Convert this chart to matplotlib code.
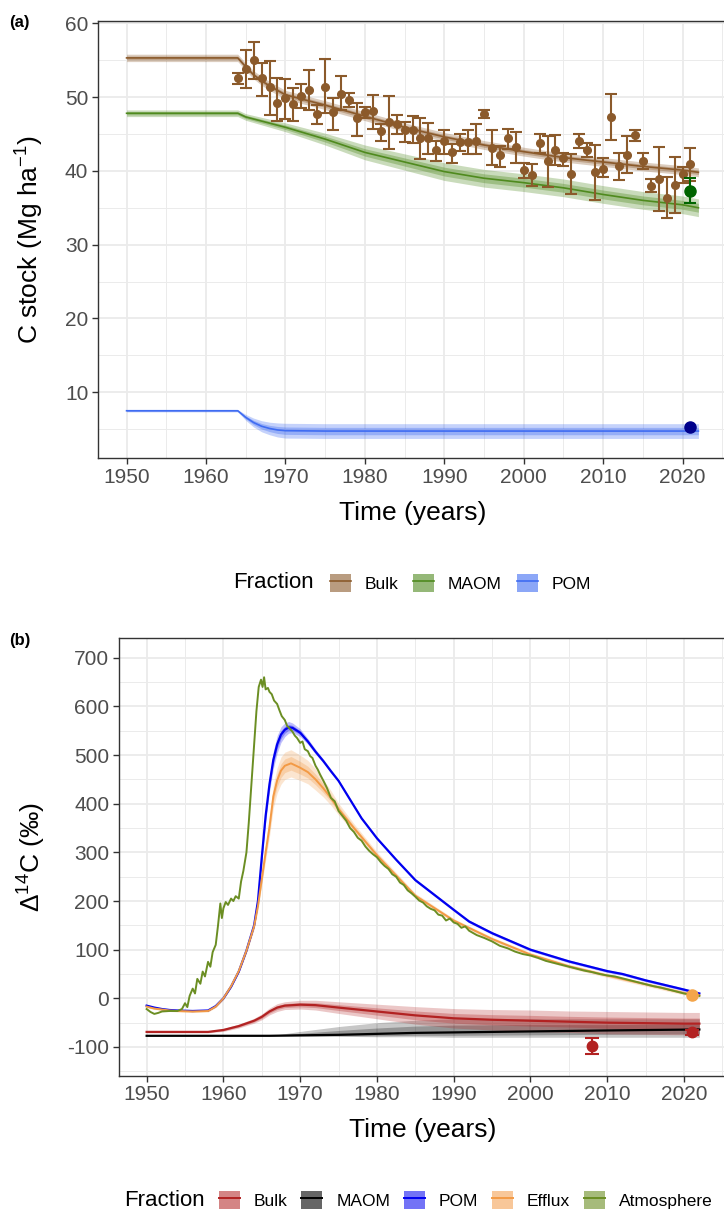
import numpy as np
import matplotlib
matplotlib.use("Agg")
import matplotlib.pyplot as plt
from matplotlib.patches import Patch
from matplotlib.lines import Line2D
from matplotlib.ticker import MultipleLocator

plt.rcParams['font.family'] = ['Liberation Sans', 'DejaVu Sans']
plt.rcParams['mathtext.default'] = 'regular'
plt.rcParams['axes.unicode_minus'] = False

# ---------------- panel (a): C stocks ----------------
obs_years = list(range(1964, 2022))
bulk_obs = [52.6, 53.8, 55.0, 52.6, 51.4, 49.2, 49.9, 49.0, 50.1, 51.0,
            47.7, 51.4, 48.0, 50.4, 49.6, 47.1, 48.0, 48.1, 45.4, 46.6,
            46.3, 45.6, 45.6, 44.5, 44.5, 42.8, 44.0, 42.6, 43.9, 43.9,
            44.1, 47.7, 43.1, 42.1, 44.5, 43.2, 40.1, 39.4, 43.8, 41.3,
            42.8, 41.7, 39.6, 44.0, 42.8, 39.9, 40.2, 47.3, 40.7, 42.2,
            44.8, 41.3, 38.0, 38.9, 36.3, 38.1, 39.6, 40.9]
bulk_lo = [51.8, 51.2, 52.5, 50.2, 47.6, 46.8, 47.0, 46.8, 48.5, 48.2,
           46.4, 47.9, 45.6, 48.2, 48.6, 44.7, 47.2, 45.7, 44.1, 42.9,
           45.0, 43.9, 43.8, 41.6, 42.3, 41.3, 42.3, 41.0, 42.7, 42.3,
           42.3, 47.2, 40.8, 40.5, 43.0, 41.0, 39.0, 37.9, 42.4, 37.8,
           40.8, 40.6, 36.8, 43.1, 41.9, 36.1, 39.1, 44.2, 38.7, 39.7,
           44.0, 40.2, 37.2, 34.6, 33.6, 34.3, 38.3, 38.6]
bulk_hi = [53.3, 56.4, 57.5, 54.6, 54.9, 52.6, 52.5, 51.2, 51.7, 53.7,
           48.9, 55.1, 49.9, 52.9, 50.5, 49.2, 48.6, 50.3, 46.4, 50.1,
           47.5, 46.6, 47.4, 47.1, 46.5, 44.1, 45.6, 43.7, 45.0, 45.5,
           46.3, 48.3, 45.5, 43.3, 45.7, 45.3, 41.1, 40.9, 45.0, 44.7,
           44.8, 42.4, 42.3, 45.0, 43.8, 43.5, 41.7, 50.4, 42.4, 44.7,
           45.5, 42.4, 38.9, 43.2, 39.1, 41.9, 40.5, 43.1]

maom_obs_year, maom_obs, maom_obs_lo, maom_obs_hi = 2021, 37.3, 35.6, 39.0
pom_obs_year, pom_obs = 2021, 5.35

bulk_years = [1950, 1964, 1965, 1966, 1967, 1968, 1970, 1975, 1980, 1985,
              1990, 1995, 2000, 2005, 2010, 2015, 2020, 2022]
bulk_mod = [55.3, 55.3, 54.1, 53.0, 52.2, 51.5, 50.3, 48.9, 47.4, 45.9,
            44.6, 43.5, 42.6, 41.8, 41.2, 40.6, 40.1, 39.8]
bulk_hw = [0.5, 0.5, 0.5, 0.55, 0.6, 0.6, 0.6, 0.6, 0.6, 0.6,
           0.6, 0.6, 0.6, 0.6, 0.6, 0.6, 0.6, 0.6]

maom_years = [1950, 1964, 1965, 1970, 1975, 1980, 1985, 1990, 1995, 2000,
              2005, 2010, 2015, 2020, 2022]
maom_mod = [47.8, 47.8, 47.3, 45.9, 44.3, 42.5, 41.2, 39.9, 39.0, 38.4,
            37.7, 36.8, 36.0, 35.4, 35.0]
maom_hw = [0.45, 0.45, 0.45, 0.6, 0.8, 1.0, 1.1, 1.2, 1.2, 1.2,
           1.2, 1.2, 1.2, 1.2, 1.2]

pom_years = [1950, 1964, 1965, 1966, 1967, 1968, 1969, 1970, 1975, 2022]
pom_mod = [7.5, 7.5, 6.6, 5.9, 5.4, 5.1, 4.9, 4.8, 4.75, 4.75]
pom_hw = [0.15, 0.15, 0.4, 0.6, 0.75, 0.85, 0.95, 1.0, 1.0, 1.0]

# ---------------- panel (b): radiocarbon ----------------
atm_years = [1950.0, 1950.5, 1951.0, 1951.5, 1952.0, 1953.0, 1954.0, 1954.6, 1955.0, 1955.3,
             1955.6, 1956.0, 1956.3, 1956.6, 1957.0, 1957.3, 1957.6, 1958.0, 1958.3, 1958.6,
             1959.0, 1959.3, 1959.6, 1959.8, 1960.0, 1960.3, 1960.6, 1961.0, 1961.3, 1961.6,
             1962.0, 1962.3, 1962.6, 1963.0, 1963.3, 1963.6, 1964.0, 1964.3, 1964.6, 1964.9,
             1965.1, 1965.3, 1965.5, 1965.8, 1966.0, 1966.3, 1966.6, 1967.0, 1967.3, 1967.6,
             1968.0, 1968.3, 1968.6, 1969.0, 1969.3, 1969.6, 1970.0, 1970.3, 1970.6, 1971.0,
             1971.3, 1971.6, 1972.0, 1972.3, 1972.6, 1973.0, 1973.5, 1974.0, 1974.5, 1975.0,
             1975.5, 1976.0, 1976.5, 1977.0, 1977.5, 1978.0, 1978.5, 1979.0, 1979.5, 1980.0,
             1980.5, 1981.0, 1981.5, 1982.0, 1982.5, 1983.0, 1983.5, 1984.0, 1984.5, 1985.0,
             1985.5, 1986.0, 1986.5, 1987.0, 1987.5, 1988.0, 1988.5, 1989.0, 1989.5, 1990.0,
             1990.5, 1991.0, 1991.5, 1992.0, 1993.0, 1994.0, 1995.0, 1996.0, 1997.0, 1998.0,
             1999.0, 2000.0, 2001.0, 2002.0, 2003.0, 2004.0, 2005.0, 2006.0, 2007.0, 2008.0,
             2009.0, 2010.0, 2011.0, 2012.0, 2013.0, 2014.0, 2015.0, 2016.0, 2017.0, 2018.0,
             2019.0, 2020.0, 2021.0, 2022.0]
atm_vals = [-22, -28, -32, -30, -27, -26, -26, -22, -10, -18,
            5, 20, 10, 40, 30, 55, 45, 75, 65, 95,
            110, 150, 195, 165, 185, 198, 192, 205, 200, 210,
            205, 240, 262, 300, 360, 430, 520, 590, 640, 655,
            640, 660, 635, 638, 630, 625, 612, 605, 592, 580,
            572, 560, 555, 548, 540, 535, 525, 528, 512, 508,
            498, 494, 478, 470, 460, 448, 432, 412, 405, 385,
            375, 365, 350, 342, 330, 324, 312, 303, 296, 290,
            280, 272, 266, 255, 250, 238, 233, 222, 216, 209,
            201, 197, 189, 184, 181, 172, 170, 160, 164, 156,
            153, 145, 148, 139, 130, 124, 117, 108, 103, 96,
            91, 88, 83, 77, 73, 69, 65, 61, 57, 54,
            50, 47, 45, 41, 37, 33, 29, 25, 22, 18,
            14, 10, 7, 5]

pomb_years = [1950, 1951, 1952, 1953, 1954, 1956, 1958, 1959, 1960, 1961,
              1962, 1963, 1964, 1964.5, 1965, 1965.5, 1966, 1966.5, 1967, 1967.5,
              1968, 1968.5, 1969, 1970, 1971, 1972, 1973, 1974, 1975, 1978,
              1980, 1982.5, 1985, 1990, 1992, 1995, 2000, 2005, 2010, 2012,
              2015, 2020, 2022]
pomb_vals = [-15, -19, -22, -24, -25, -26, -25, -16, 0, 24,
             55, 98, 150, 200, 290, 375, 440, 490, 522, 542,
             552, 557, 556, 546, 528, 507, 488, 467, 447, 370,
             329, 285, 243, 182, 158, 134, 100, 76, 56, 50,
             37, 18, 10]
pomb_hw = [1, 1, 1, 1, 1, 1, 1, 1, 2, 2,
           2, 3, 4, 6, 10, 14, 16, 18, 18, 16,
           14, 12, 10, 8, 6, 5, 4, 4, 3, 3,
           3, 3, 3, 3, 3, 3, 3, 3, 3, 3,
           3, 3, 3]

eff_years = [1950, 1951, 1952, 1953, 1954, 1956, 1958, 1959, 1960, 1961,
             1962, 1963, 1964, 1964.5, 1965, 1965.5, 1966, 1966.5, 1967, 1967.5,
             1968, 1968.8, 1970, 1971, 1972, 1973, 1974, 1975, 1977, 1980,
             1985, 1990, 1995, 2000, 2005, 2010, 2015, 2020, 2022]
eff_vals = [-17, -21, -23, -25, -26, -27, -26, -17, 0, 25,
            56, 98, 148, 190, 245, 300, 352, 415, 448, 468,
            478, 483, 474, 465, 450, 432, 412, 389, 350, 294,
            211, 160, 122, 90, 66, 47, 29, 11, 6]
eff_hw = [2, 2, 2, 2, 2, 2, 2, 2, 3, 3,
          4, 5, 6, 8, 12, 16, 20, 24, 26, 28,
          28, 28, 26, 24, 22, 18, 15, 12, 9, 7,
          5, 4, 4, 4, 4, 4, 4, 4, 4]

bulkb_years = [1950, 1955, 1958, 1960, 1962, 1964, 1965, 1966, 1967, 1968,
               1970, 1972, 1975, 1980, 1985, 1990, 1995, 2000, 2005, 2010,
               2015, 2020, 2022]
bulkb_vals = [-69, -69, -69, -65, -57, -46, -38, -27, -19, -15,
              -13, -14, -19, -27, -35, -41, -44, -46, -48, -50,
              -51, -52, -52]
bulkb_hw = [2, 2, 2, 3, 4, 5, 6, 7, 8, 8,
            9, 10, 12, 15, 18, 20, 21, 22, 22, 23,
            23, 23, 23]

maomb_years = [1950, 1966, 1970, 1975, 1980, 1985, 1990, 2000, 2010, 2022]
maomb_vals = [-77, -77, -76, -75, -73, -71, -70, -68, -66, -64]
maomb_out_lo = [-77, -77, -78, -78, -79, -79, -80, -80, -80, -80]
maomb_out_hi = [-77, -77, -68, -58, -50, -45, -42, -42, -42, -42]
maomb_in_lo = [-77, -77, -77, -77, -77, -76, -76, -75, -74, -73]
maomb_in_hi = [-77, -77, -72, -66, -61, -57, -55, -54, -54, -53]

bulkb_obs_years = [2008, 2021]
bulkb_obs = [-98, -70]
bulkb_obs_err = [17, 5]
eff_obs_year, eff_obs = 2021, 7

# colours
c_bulk_a = '#8B5A2B'
c_maom_a = '#4F8A1E'
c_pom_a = '#3F6CF2'
c_bulk_b = '#B22222'
c_maom_b = '#000000'
c_pom_b = '#0000F0'
c_eff = '#F39A45'
c_atm = '#6B8E23'

tick_kw = dict(labelsize=15, labelcolor='#4D4D4D', length=4, width=1, color='#333333', pad=3)


def style_axes(ax, ymaj, ymin):
    ax.set_xlim(1946.4, 2025.6)
    ax.xaxis.set_major_locator(MultipleLocator(10))
    ax.xaxis.set_minor_locator(MultipleLocator(5))
    ax.yaxis.set_major_locator(MultipleLocator(ymaj))
    ax.yaxis.set_minor_locator(MultipleLocator(ymin))
    ax.tick_params(which='major', **tick_kw)
    ax.tick_params(which='minor', length=0)
    ax.grid(which='major', color='#EBEBEB', lw=1.3)
    ax.grid(which='minor', color='#EBEBEB', lw=0.7)
    ax.set_axisbelow(True)
    for s in ax.spines.values():
        s.set_color('#333333')
        s.set_linewidth(1.0)


def band(ax, x, mid, hw, color, scale_in=0.5, a_out=0.3, a_in=0.35):
    x = np.array(x)
    mid = np.array(mid, dtype=float)
    hw = np.array(hw, dtype=float)
    ax.fill_between(x, mid - hw, mid + hw, color=color, alpha=a_out, lw=0)
    ax.fill_between(x, mid - hw * scale_in, mid + hw * scale_in, color=color, alpha=a_in, lw=0)


fig = plt.figure(figsize=(7.24, 12.11), dpi=100)
W, H = 724.0, 1211.0

# ---- panel a ----
axa = fig.add_axes([98 / W, 1 - 458 / H, (727 - 98) / W, (458 - 21) / H])
style_axes(axa, 10, 5)
axa.set_ylim(1.1, 60.3)

band(axa, bulk_years, bulk_mod, bulk_hw, c_bulk_a)
axa.plot(bulk_years, bulk_mod, color=c_bulk_a, lw=1.2)
band(axa, maom_years, maom_mod, maom_hw, c_maom_a)
axa.plot(maom_years, maom_mod, color=c_maom_a, lw=1.2)
band(axa, pom_years, pom_mod, pom_hw, c_pom_a)
axa.plot(pom_years, pom_mod, color=c_pom_a, lw=1.2)

b_obs = np.array(bulk_obs)
yerr = [b_obs - np.array(bulk_lo), np.array(bulk_hi) - b_obs]
axa.errorbar(obs_years, b_obs, yerr=yerr, fmt='o', color=c_bulk_a, ms=5.5,
             elinewidth=1.5, capsize=4, capthick=1.5, zorder=5)
axa.errorbar([maom_obs_year], [maom_obs],
             yerr=[[maom_obs - maom_obs_lo], [maom_obs_hi - maom_obs]],
             fmt='o', color='#006400', ms=8, elinewidth=1.5, capsize=4, capthick=1.5, zorder=6)
axa.plot([pom_obs_year], [pom_obs], 'o', color='#00008B', ms=8, zorder=6)

fig.text(30 / W, 1 - 240 / H, 'C stock (Mg ha$^{-1}$)', rotation=90, ha='center', va='center', fontsize=19)
fig.text(413 / W, 1 - 513 / H, 'Time (years)', ha='center', va='center', fontsize=19)
fig.text(9 / W, 1 - 23 / H, '(a)', ha='left', va='center', fontsize=12, fontweight='bold')

# legend a
fig.text(314 / W, 1 - 583 / H, 'Fraction', ha='right', va='center', fontsize=16)
handles_a = [(Patch(facecolor=c, alpha=0.6, lw=0), Line2D([], [], color=c, lw=1.2))
             for c in (c_bulk_a, c_maom_a, c_pom_a)]
fig.legend(handles_a, ['Bulk', 'MAOM', 'POM'], loc='center left',
           bbox_to_anchor=(330 / W, 1 - 583 / H), ncol=3, frameon=False,
           fontsize=12.5, handlelength=1.2, handleheight=1.2, handletextpad=0.8,
           columnspacing=0.85, borderpad=0, borderaxespad=0)

# ---- panel b ----
axb = fig.add_axes([119 / W, 1 - 1075.7 / H, (727 - 119) / W, (1075.7 - 638.3) / H])
style_axes(axb, 100, 50)
axb.set_ylim(-159, 740)

axb.fill_between(maomb_years, maomb_out_lo, maomb_out_hi, color='#000000', alpha=0.22, lw=0)
axb.fill_between(maomb_years, maomb_in_lo, maomb_in_hi, color='#000000', alpha=0.25, lw=0)
band(axb, bulkb_years, bulkb_vals, bulkb_hw, c_bulk_b, a_out=0.25, a_in=0.3)
band(axb, pomb_years, pomb_vals, pomb_hw, c_pom_b, a_out=0.25, a_in=0.3)
band(axb, eff_years, eff_vals, eff_hw, c_eff, a_out=0.25, a_in=0.3)

axb.plot(maomb_years, maomb_vals, color=c_maom_b, lw=1.6)
axb.plot(bulkb_years, bulkb_vals, color=c_bulk_b, lw=1.6)
axb.plot(pomb_years, pomb_vals, color=c_pom_b, lw=1.6)
axb.plot(eff_years, eff_vals, color=c_eff, lw=1.4)
axb.plot(atm_years, atm_vals, color=c_atm, lw=1.4)

axb.errorbar(bulkb_obs_years, bulkb_obs, yerr=bulkb_obs_err, fmt='o', color=c_bulk_b,
             ms=7.5, elinewidth=1.5, capsize=5, capthick=1.5, zorder=6)
axb.plot([eff_obs_year], [eff_obs], 'o', color='#F4A54A', ms=8, zorder=7)

fig.text(32 / W, 1 - 857 / H, '$\\Delta^{14}$C (\u2030)', rotation=90, ha='center', va='center', fontsize=19)
fig.text(423 / W, 1 - 1130 / H, 'Time (years)', ha='center', va='center', fontsize=19)
fig.text(9 / W, 1 - 641 / H, '(b)', ha='left', va='center', fontsize=12, fontweight='bold')

# legend b
fig.text(205 / W, 1 - 1200 / H, 'Fraction', ha='right', va='center', fontsize=16)
handles_b = [(Patch(facecolor=c, alpha=a, lw=0), Line2D([], [], color=c, lw=1.4))
             for c, a in ((c_bulk_b, 0.55), ('#000000', 0.6), (c_pom_b, 0.55),
                          (c_eff, 0.55), (c_atm, 0.6))]
fig.legend(handles_b, ['Bulk', 'MAOM', 'POM', 'Efflux', 'Atmosphere'], loc='center left',
           bbox_to_anchor=(219 / W, 1 - 1200 / H), ncol=5, frameon=False,
           fontsize=12.5, handlelength=1.2, handleheight=1.2, handletextpad=0.8,
           columnspacing=0.8, borderpad=0, borderaxespad=0)

fig.savefig('out.png', dpi=100)
plt.close(fig)
